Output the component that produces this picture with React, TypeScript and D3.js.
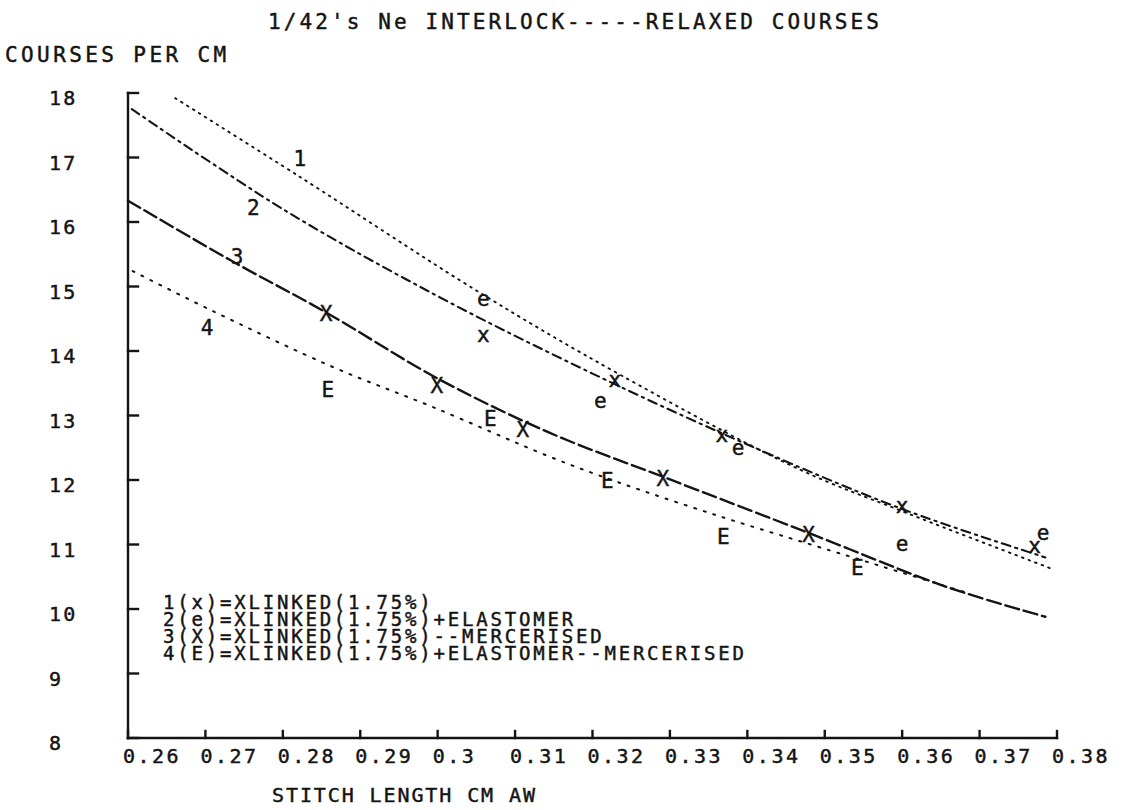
import React from "react";
import * as d3 from "d3";

// ---- axis ticks ----
const xTickValues = [0.26, 0.27, 0.28, 0.29, 0.3, 0.31, 0.32, 0.33, 0.34, 0.35, 0.36, 0.37, 0.38];
const xTickLabels = ["0.26", "0.27", "0.28", "0.29", "0.3", "0.31", "0.32", "0.33", "0.34", "0.35", "0.36", "0.37", "0.38"];
const yTickValues = [8, 9, 10, 11, 12, 13, 14, 15, 16, 17, 18];
const yTickLabels = ["8", "9", "10", "11", "12", "13", "14", "15", "16", "17", "18"];

// ---- measured points (markers) ----
const s1X = [0.3059, 0.3229, 0.3367, 0.36, 0.3771];
const s1Y = [14.22, 13.53, 12.67, 11.57, 10.95];
const s2X = [0.3059, 0.321, 0.3388, 0.36, 0.3782];
const s2Y = [14.79, 13.21, 12.47, 10.98, 11.16];
const s3X = [0.2856, 0.2999, 0.311, 0.3291, 0.3479];
const s3Y = [14.59, 13.46, 12.78, 12.02, 11.16];
const s4X = [0.2858, 0.3068, 0.3219, 0.3369, 0.3542];
const s4Y = [13.4, 12.96, 12.0, 11.13, 10.65];
const markerChars = ["x", "e", "X", "E"];

// ---- fitted curves ----
const c1X = [0.2661, 0.2822, 0.3055, 0.3236, 0.3468, 0.3597, 0.3794];
const c1Y = [17.92, 16.7, 14.9, 13.63, 12.16, 11.53, 10.62];
const c2X = [0.2605, 0.28, 0.3, 0.32, 0.34, 0.36, 0.3785];
const c2Y = [17.75, 16.2, 14.85, 13.65, 12.55, 11.55, 10.8];
const c3X = [0.26, 0.2732, 0.2857, 0.2999, 0.3145, 0.3291, 0.3479, 0.3658, 0.3785];
const c3Y = [16.33, 15.41, 14.59, 13.58, 12.73, 12.05, 11.18, 10.34, 9.88];
const c4X = [0.2606, 0.2706, 0.2865, 0.2994, 0.3145, 0.3232, 0.3361, 0.349, 0.3555, 0.3681];
const c4Y = [15.24, 14.64, 13.75, 13.13, 12.36, 11.97, 11.45, 10.97, 10.73, 10.26];

// curve number labels (data coords)
const curveLabelText = ["1", "2", "3", "4"];
const curveLabelX = [0.2822, 0.2762, 0.2741, 0.2702];
const curveLabelY = [16.99, 16.23, 15.46, 14.36];

const legendLines = [
  "1(x)=XLINKED(1.75%)",
  "2(e)=XLINKED(1.75%)+ELASTOMER",
  "3(X)=XLINKED(1.75%)--MERCERISED",
  "4(E)=XLINKED(1.75%)+ELASTOMER--MERCERISED",
];

const titleText = "1/42's Ne INTERLOCK-----RELAXED COURSES";
const yAxisTitle = "COURSES PER CM";
const xAxisTitle = "STITCH LENGTH CM AW";

const FONT = "'DejaVu Sans Mono', 'Liberation Mono', monospace";
const INK = "#141414";

function T(props: any) {
  const { x, y, children, fs = 20, ls = 2.5, anchor = "start", dy = 0 } = props;
  return (
    <text
      x={x}
      y={y}
      dy={dy}
      fontFamily={FONT}
      fontSize={fs}
      letterSpacing={ls}
      textAnchor={anchor}
      fill={INK}
      stroke={INK}
      strokeWidth={0.45}
    >
      {children}
    </text>
  );
}

export default function App() {
  const W = 1128;
  const H = 810;
  const x = d3.scaleLinear().domain([0.26, 0.38]).range([128, 1057]);
  const y = d3.scaleLinear().domain([8, 18]).range([738, 93]);

  const line = d3
    .line<[number, number]>()
    .x((d) => x(d[0]))
    .y((d) => y(d[1]))
    .curve(d3.curveCatmullRom.alpha(0.5));

  const curves = [
    { xs: c1X, ys: c1Y, dash: "1.6,5.4", w: 1.9 },
    { xs: c2X, ys: c2Y, dash: "9,5,2.2,5", w: 2.1 },
    { xs: c3X, ys: c3Y, dash: "14,5", w: 2.4 },
    { xs: c4X, ys: c4Y, dash: "2,8", w: 2 },
  ];
  const series = [
    { xs: s1X, ys: s1Y },
    { xs: s2X, ys: s2Y },
    { xs: s3X, ys: s3Y },
    { xs: s4X, ys: s4Y },
  ];

  const capFs = 21;

  return (
    <svg
      width={W}
      height={H}
      viewBox={`0 0 ${W} ${H}`}
      style={{ position: "absolute", left: 0, top: 0, background: "#fff" }}
    >
      <rect x={0} y={0} width={W} height={H} fill="#fff" />

      {/* titles */}
      <T x={575} y={29} fs={21} ls={3.1} anchor="middle">{titleText}</T>
      <T x={5} y={62} fs={21} ls={3.4}>{yAxisTitle}</T>
      <T x={272} y={802} fs={20} ls={1.9}>{xAxisTitle}</T>

      {/* axes */}
      <g stroke={INK} strokeWidth={2.4} fill="none" strokeLinecap="square">
        <line x1={x(0.26)} y1={y(18)} x2={x(0.26)} y2={y(8)} />
        <line x1={x(0.26)} y1={y(8)} x2={x(0.38)} y2={y(8)} />
        {yTickValues.map((v) => (
          <line key={"yt" + v} x1={x(0.26)} y1={y(v)} x2={x(0.26) + 10} y2={y(v)} />
        ))}
        {xTickValues.map((v) => (
          <line key={"xt" + v} x1={x(v)} y1={y(8)} x2={x(v)} y2={y(8) - 7} />
        ))}
      </g>

      {/* tick labels */}
      {yTickValues.map((v, i) => (
        <T key={"yl" + v} x={49} y={y(v) + 12} fs={20} ls={2.2}>{yTickLabels[i]}</T>
      ))}
      {xTickValues.map((v, i) => (
        <T key={"xl" + v} x={x(v) - 5} y={763} fs={20} ls={2.5}>{xTickLabels[i]}</T>
      ))}

      {/* curves */}
      {curves.map((c, i) => (
        <path
          key={"c" + i}
          d={line(c.xs.map((v, j) => [v, c.ys[j]] as [number, number])) || ""}
          fill="none"
          stroke={INK}
          strokeWidth={c.w}
          strokeDasharray={c.dash}
          strokeLinecap="round"
        />
      ))}

      {/* markers */}
      {series.map((s, i) =>
        s.xs.map((v, j) => (
          <T
            key={"m" + i + "-" + j}
            x={x(v)}
            y={y(s.ys[j])}
            fs={capFs}
            ls={0}
            anchor="middle"
            dy={markerChars[i] === "x" || markerChars[i] === "e" ? capFs * 0.27 : capFs * 0.36}
          >
            {markerChars[i]}
          </T>
        ))
      )}

      {/* curve numbers */}
      {curveLabelText.map((t, i) => (
        <T key={"cl" + i} x={x(curveLabelX[i])} y={y(curveLabelY[i])} dy={capFs * 0.36} fs={capFs} ls={0} anchor="middle">
          {t}
        </T>
      ))}

      {/* legend: one multi-line text block */}
      <text
        fontFamily={FONT}
        fontSize={19}
        letterSpacing={2.8}
        fill={INK}
        stroke={INK}
        strokeWidth={0.45}
      >
        {legendLines.map((t, i) => (
          <tspan key={"lg" + i} x={163} y={609 + i * 17}>
            {t}
          </tspan>
        ))}
      </text>
    </svg>
  );
}
